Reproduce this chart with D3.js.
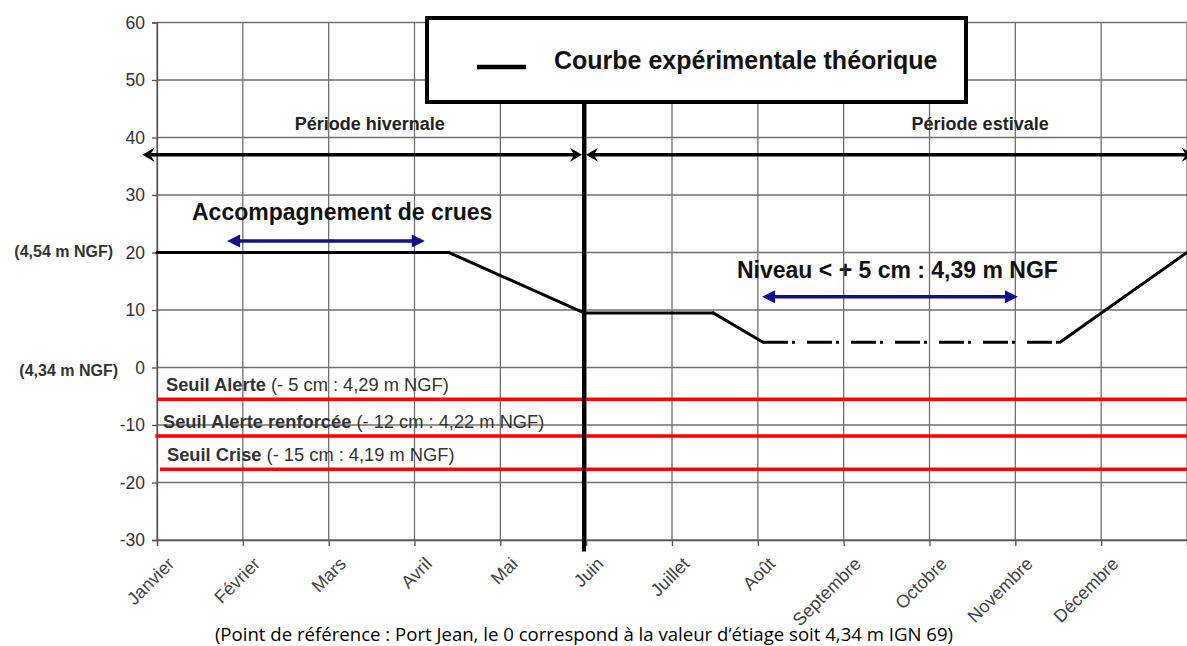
<!DOCTYPE html>
<html>
<head>
<meta charset="utf-8">
<script src="https://cdn.jsdelivr.net/npm/d3@7"></script>
<style>
  body { margin: 0; background: #fff; }
  text { font-family: "Liberation Sans", Arial, sans-serif; }
</style>
</head>
<body>
<div id="chart"></div>
<script>
var width = 1187, height = 646;

// Define data

var months = ["Janvier", "Février", "Mars", "Avril", "Mai", "Juin", "Juillet",
  "Août", "Septembre", "Octobre", "Novembre", "Décembre"];
var monthTicks = [0, 1, 2, 3, 4, 5, 6, 7, 8, 9, 10, 11, 12];
var yTicks = [-30, -20, -10, 0, 10, 20, 30, 40, 50, 60];

// courbe experimentale (mois, cm) - segment 4 en trait mixte
var curveMonths = [0, 3.4, 4.975, 6.48, 7.06, 10.52, 12];
var curveValues = [20, 20, 9.5, 9.5, 4.4, 4.4, 20];
var curveDashed = [false, false, false, false, true, false];

// seuils
var seuilNames = ["Seuil Alerte", "Seuil Alerte renforcée", "Seuil Crise"];
var seuilDetails = ["(- 5 cm : 4,29 m NGF)", "(- 12 cm : 4,22 m NGF)", "(- 15 cm : 4,19 m NGF)"];
var seuilValues = [-5.5, -11.9, -17.7];
var seuilStart = [0, -0.02, 0.035];

// periodes
var periodNames = ["Période hivernale", "Période estivale"];
var periodFrom = [-0.17, 4.975];
var periodTo = [4.975, 12.08];
var periodLabelAt = [2.48, 9.59];
var periodLevel = 37;
var juneDivider = 4.975;

// cotes NGF
var ngfLabels = ["(4,54 m NGF)", "(4,34 m NGF)"];
var ngfValues = [20, 0];

// fleches bleues
var blueNames = ["Accompagnement de crues", "Niveau < + 5 cm : 4,39 m NGF"];
var blueFrom = [0.816, 7.05];
var blueTo = [3.12, 10.03];
var blueLevel = [22, 12.3];

var svg = d3.select("#chart")
    .append("svg")
    .attr("width", width)
    .attr("height", height);

// Define scales

var xScale = d3.scaleLinear().domain([0, 12]).range([157, 1187]);
var yScale = d3.scaleLinear().domain([-30, 60]).range([540, 22.5]);

// Grid

svg.append("g").selectAll("line")
    .data(yTicks)
    .enter().append("line")
    .attr("x1", xScale(0)).attr("x2", xScale(12))
    .attr("y1", function(d) { return yScale(d); })
    .attr("y2", function(d) { return yScale(d); })
    .attr("stroke", "#707070")
    .attr("stroke-width", 1.3);

svg.append("g").selectAll("line")
    .data(monthTicks)
    .enter().append("line")
    .attr("x1", function(d) { return xScale(d); })
    .attr("x2", function(d) { return xScale(d); })
    .attr("y1", yScale(60)).attr("y2", yScale(-30))
    .attr("stroke", "#707070")
    .attr("stroke-width", 1.3);

// Draw Axes

var yAxis = svg.append("g")
    .attr("transform", `translate(${xScale(0)}, 0)`)
    .call(d3.axisLeft(yScale).tickValues(yTicks).tickSize(5).tickPadding(7)
      .tickFormat(function(d) { return String(d); }));
yAxis.selectAll("text")
    .style("font-family", "Liberation Sans, Arial, sans-serif")
    .style("font-size", "17.5px")
    .attr("fill", "#333");

var xAxis = svg.append("g")
    .attr("transform", `translate(0, ${yScale(-30)})`)
    .call(d3.axisBottom(xScale).tickValues(monthTicks).tickSize(6)
      .tickFormat(function(d) { return d < 12 ? months[d] : ""; }));
xAxis.selectAll("text")
    .style("font-family", "Liberation Sans, Arial, sans-serif")
    .style("font-size", "18px")
    .attr("fill", "#444")
    .attr("text-anchor", "end")
    .attr("y", 0).attr("dy", 0)
    .attr("transform", "translate(18, 25) rotate(-45)");
svg.selectAll(".domain, .tick line").attr("stroke", "#555").attr("stroke-width", 1.3);

// Seuils

svg.append("g").selectAll("line")
    .data(seuilValues)
    .enter().append("line")
    .attr("x1", function(d, i) { return xScale(seuilStart[i]); })
    .attr("x2", width)
    .attr("y1", function(d) { return yScale(d); })
    .attr("y2", function(d) { return yScale(d); })
    .attr("stroke", "#ff0000")
    .attr("stroke-width", 3.5);

var seuilText = svg.append("g").selectAll("text")
    .data(seuilNames)
    .enter().append("text")
    .attr("x", function(d, i) { return [166, 163, 167][i]; })
    .attr("y", function(d, i) { return yScale(seuilValues[i]) - 8; })
    .style("font-size", "18.3px")
    .attr("fill", "#333");
seuilText.append("tspan").style("font-weight", "bold").text(function(d) { return d; });
seuilText.append("tspan").text(function(d, i) { return " " + seuilDetails[i]; });

// Periodes (double fleche noire)

function blackHead(x, y, dir) {
  svg.append("path")
    .attr("d", `M${x},${y} L${x - dir * 12},${y - 7} L${x - dir * 8},${y} L${x - dir * 12},${y + 7} Z`)
    .attr("fill", "#000");
}

periodNames.forEach(function(name, i) {
  var y = yScale(periodLevel);
  var x1 = xScale(periodFrom[i]) + (i == 1 ? 2 : 0);
  var x2 = xScale(periodTo[i]) - (i == 0 ? 2 : 0);
  svg.append("line")
    .attr("x1", x1 + 4).attr("x2", x2 - 4)
    .attr("y1", y).attr("y2", y)
    .attr("stroke", "#000").attr("stroke-width", 3.5);
  blackHead(x1, y, -1);
  blackHead(x2, y, 1);
  svg.append("text")
    .attr("x", xScale(periodLabelAt[i]))
    .attr("y", yScale(periodLevel) - 25)
    .attr("text-anchor", "middle")
    .style("font-size", "18px")
    .style("font-weight", "bold")
    .attr("fill", "#222")
    .text(name);
});

// Cotes NGF

svg.append("g").selectAll("text")
    .data(ngfLabels)
    .enter().append("text")
    .attr("x", function(d, i) { return [113, 118][i]; })
    .attr("y", function(d, i) { return yScale(ngfValues[i]) + [4, 8][i]; })
    .attr("text-anchor", "end")
    .style("font-size", "16px")
    .style("font-weight", "bold")
    .attr("fill", "#333")
    .text(function(d) { return d; });

// Courbe

var line = d3.line()
    .x(function(d) { return xScale(d[0]); })
    .y(function(d) { return yScale(d[1]); });

curveDashed.forEach(function(dashed, i) {
  svg.append("path")
    .attr("d", line([[curveMonths[i], curveValues[i]], [curveMonths[i + 1], curveValues[i + 1]]]))
    .attr("fill", "none")
    .attr("stroke", "#000")
    .attr("stroke-width", 3)
    .attr("stroke-linecap", dashed ? "butt" : "round")
    .attr("stroke-dasharray", dashed ? "25,4,3,12" : null);
});

// Fleches bleues

blueNames.forEach(function(name, i) {
  var y = yScale(blueLevel[i]);
  var x1 = xScale(blueFrom[i]), x2 = xScale(blueTo[i]);
  svg.append("line")
    .attr("x1", x1 + 8).attr("x2", x2 - 8)
    .attr("y1", y).attr("y2", y)
    .attr("stroke", "#10108c").attr("stroke-width", 3.5);
  svg.append("path")
    .attr("d", `M${x1},${y} L${x1 + 13},${y - 6.5} L${x1 + 13},${y + 6.5} Z`)
    .attr("fill", "#10108c");
  svg.append("path")
    .attr("d", `M${x2},${y} L${x2 - 13},${y - 6.5} L${x2 - 13},${y + 6.5} Z`)
    .attr("fill", "#10108c");
});

svg.append("text")
    .attr("x", 192).attr("y", 220)
    .style("font-size", "23px").style("font-weight", "bold")
    .attr("fill", "#111")
    .text(blueNames[0]);

svg.append("text")
    .attr("x", 737).attr("y", 278)
    .style("font-size", "23px").style("font-weight", "bold")
    .attr("fill", "#111")
    .text(blueNames[1]);

// Separation juin

svg.append("line")
    .attr("x1", xScale(juneDivider)).attr("x2", xScale(juneDivider))
    .attr("y1", yScale(47)).attr("y2", yScale(-32))
    .attr("stroke", "#000").attr("stroke-width", 4);

// Legende

svg.append("rect")
    .attr("x", 427).attr("y", 18)
    .attr("width", 539).attr("height", 84)
    .attr("fill", "#fff")
    .attr("stroke", "#000")
    .attr("stroke-width", 4);

svg.append("line")
    .attr("x1", 477).attr("x2", 526)
    .attr("y1", 67).attr("y2", 67)
    .attr("stroke", "#000").attr("stroke-width", 4.5);

svg.append("text")
    .attr("x", 554).attr("y", 69)
    .style("font-size", "25px").style("font-weight", "bold")
    .attr("fill", "#111")
    .text("Courbe expérimentale théorique");

// Note

svg.append("text")
    .attr("x", 584).attr("y", 641)
    .attr("text-anchor", "middle")
    .style("font-family", "Open Sans, sans-serif")
    .style("font-size", "18.6px")
    .attr("fill", "#000")
    .text("(Point de référence : Port Jean, le 0 correspond à la valeur d’étiage soit 4,34 m IGN 69)");
</script>
</body>
</html>
